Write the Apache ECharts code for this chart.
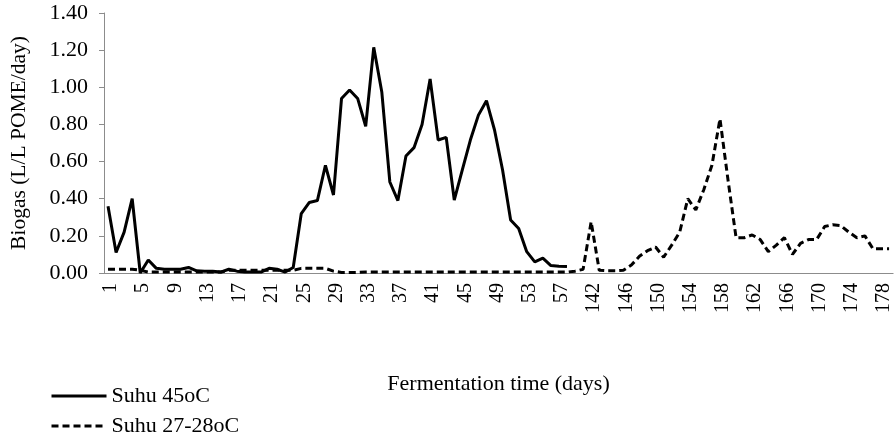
<!DOCTYPE html>
<html>
<head>
<meta charset="utf-8">
<script src="https://cdn.jsdelivr.net/npm/echarts@6/dist/echarts.min.js"></script>
<style>
  html, body { margin: 0; padding: 0; background: #fff; }
  #main { width: 894px; height: 439px; }
</style>
</head>
<body>
<div id="main"></div>
<script>
// fermentation days (category axis, only every 4th label shown)
const days = [
  1, 2, 3, 4, 5, 6, 7, 8, 9, 10, 11, 12, 13, 14, 15, 16, 17, 18, 19, 20,
  21, 22, 23, 24, 25, 26, 27, 28, 29, 30, 31, 32, 33, 34, 35, 36, 37, 38, 39, 40,
  41, 42, 43, 44, 45, 46, 47, 48, 49, 50, 51, 52, 53, 54, 55, 56, 57, 58, 59,
  141, 142, 143, 144, 145, 146, 147, 148, 149, 150, 151, 152, 153, 154, 155, 156, 157, 158, 159, 160,
  161, 162, 163, 164, 165, 166, 167, 168, 169, 170, 171, 172, 173, 174, 175, 176, 177, 178, 179
];

// Suhu 45oC
const suhu45 = [
  0.36, 0.11, 0.22, 0.40, 0.00, 0.07, 0.025, 0.02, 0.02, 0.02,
  0.03, 0.012, 0.01, 0.01, 0.005, 0.02, 0.01, 0.005, 0.005, 0.005,
  0.025, 0.02, 0.005, 0.03, 0.32, 0.38, 0.39, 0.58, 0.42, 0.94,
  0.985, 0.94, 0.79, 1.215, 0.975, 0.49, 0.39, 0.63, 0.675, 0.80,
  1.045, 0.716, 0.73, 0.393, 0.555, 0.716, 0.85, 0.928, 0.77, 0.555,
  0.285, 0.24, 0.115, 0.06, 0.08, 0.04, 0.037, 0.035
];

// Suhu 27-28oC
const suhu2728 = [
  0.02, 0.02, 0.02, 0.02, 0.015, 0.005, 0.005, 0.005, 0.005, 0.005,
  0.005, 0.005, 0.005, 0.005, 0.005, 0.015, 0.015, 0.015, 0.015, 0.015,
  0.015, 0.015, 0.015, 0.015, 0.025, 0.025, 0.025, 0.025, 0.01, 0.003,
  0.003, 0.003, 0.005, 0.005, 0.005, 0.005, 0.005, 0.005, 0.005, 0.005,
  0.005, 0.005, 0.005, 0.005, 0.005, 0.005, 0.005, 0.005, 0.005, 0.005,
  0.005, 0.005, 0.005, 0.005, 0.005, 0.005, 0.005, 0.005, 0.01, 0.02,
  0.276, 0.015, 0.012, 0.012, 0.015, 0.043, 0.09, 0.12, 0.14, 0.085,
  0.15, 0.22, 0.40, 0.34, 0.45, 0.58, 0.83, 0.50, 0.19, 0.19,
  0.205, 0.18, 0.115, 0.15, 0.19, 0.10, 0.16, 0.18, 0.18, 0.25,
  0.26, 0.255, 0.22, 0.19, 0.20, 0.13, 0.13, 0.13
];

const yTicks = { min: 0, max: 1.4, interval: 0.2 };

const font = '"Liberation Serif", "Times New Roman", serif';

const chart = echarts.init(document.getElementById("main"));

const option = {
  animation: false,
  textStyle: { fontFamily: font, color: "#000" },
  grid: {
    left: 104,
    top: 13,
    width: 793,
    height: 260,
  },
  legend: {
    orient: "vertical",
    left: 45,
    top: 380,
    height: 60,
    itemWidth: 55,
    itemHeight: 14,
    itemGap: 8,
    // hide the marker circle, keep only the line sample
    itemStyle: { color: "transparent", borderWidth: 0, opacity: 0 },
    lineStyle: { width: 3 },
    textStyle: { fontFamily: font, fontSize: 22, lineHeight: 22, color: "#000" },
    data: ["Suhu 45oC", "Suhu 27-28oC"],
  },
  xAxis: {
    type: "category",
    data: days,
    boundaryGap: true,
    name: "Fermentation time (days)",
    nameLocation: "middle",
    nameGap: 100,
    nameTextStyle: { fontFamily: font, fontSize: 22, color: "#000" },
    axisLine: { lineStyle: { color: "#8c8c8c", width: 1 } },
    axisTick: { show: false },
    axisLabel: {
      interval: 3,
      rotate: 90,
      margin: 10,
      verticalAlign: "top",
      lineHeight: 6,
      fontFamily: font,
      fontSize: 20,
      color: "#000",
    },
  },
  yAxis: {
    type: "value",
    min: yTicks.min,
    max: yTicks.max,
    interval: yTicks.interval,
    name: "Biogas (L/L POME/day)",
    nameLocation: "middle",
    nameGap: 74,
    nameTextStyle: { fontFamily: font, fontSize: 21.5, color: "#000" },
    axisLine: { show: true, lineStyle: { color: "#8c8c8c", width: 1 } },
    axisTick: { show: true, length: 5, lineStyle: { color: "#8c8c8c" } },
    splitLine: { show: false },
    axisLabel: {
      margin: 16,
      fontFamily: font,
      fontSize: 22,
      color: "#000",
      formatter: (v) => v.toFixed(2),
    },
  },
  series: [
    {
      name: "Suhu 45oC",
      type: "line",
      data: suhu45,
      symbol: "none",
      lineStyle: { color: "#000", width: 3, type: "solid" },
      itemStyle: { color: "#000" },
    },
    {
      name: "Suhu 27-28oC",
      type: "line",
      data: suhu2728,
      symbol: "none",
      lineStyle: { color: "#000", width: 3, type: [7, 4] },
      itemStyle: { color: "#000" },
    },
  ],
};

chart.setOption(option);
</script>
</body>
</html>
